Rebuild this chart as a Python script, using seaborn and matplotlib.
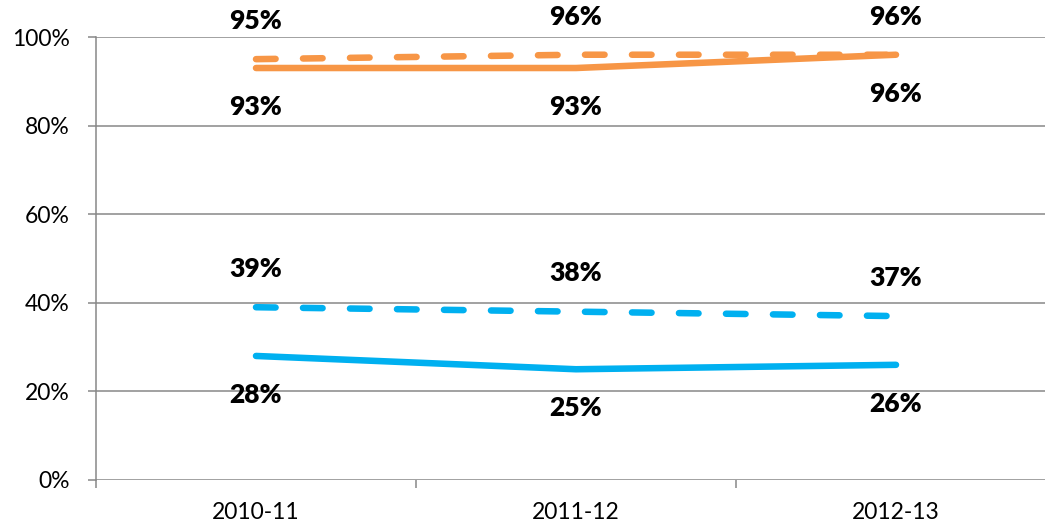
import matplotlib
matplotlib.use("Agg")
import matplotlib.pyplot as plt
import seaborn as sns
import pandas as pd

years = ["2010-11", "2011-12", "2012-13"]
orange_dashed = [95, 96, 96]
orange_solid = [93, 93, 96]
blue_dashed = [39, 38, 37]
blue_solid = [28, 25, 26]
y_ticks = [0, 20, 40, 60, 80, 100]

ORANGE = "#F79646"
BLUE = "#00B0F0"
GRID = "#878787"

sns.set_theme(style="white")
plt.rcParams['font.family'] = ['Lato', 'DejaVu Sans']

fig = plt.figure(figsize=(10.45, 5.29), dpi=100)
ax = fig.add_axes([96 / 1045, 49 / 529, 960 / 1045, 443 / 529])

series = [
    (orange_solid, ORANGE, "-", -28),
    (orange_dashed, ORANGE, (0, (3, 4.2)), 27.5),
    (blue_solid, BLUE, "-", -28),
    (blue_dashed, BLUE, (0, (3, 4.2)), 27.5),
]

for vals, color, ls, off in series:
    df = pd.DataFrame({"year": years, "value": vals})
    sns.lineplot(data=df, x="year", y="value", ax=ax, color=color,
                 linestyle=ls, linewidth=4.7, solid_capstyle="round",
                 dash_capstyle="round", zorder=3, clip_on=False)
    for i, v in enumerate(vals):
        ax.annotate(f"{v}%", xy=(i, v), xytext=(0, off), textcoords="offset points",
                    ha="center", va="center", fontsize=19, fontweight="heavy",
                    color="black", annotation_clip=False)

ax.set_xlim(-0.5, 2.5)
ax.set_ylim(0, 100)
ax.set_yticks(y_ticks)
ax.set_yticklabels([f"{t}%" for t in y_ticks])
ax.set_xticks(range(len(years)))
ax.set_xticklabels(years)
ax.set_xticks([-0.5, 0.5, 1.5, 2.5], minor=True)
ax.set_xlabel("")
ax.set_ylabel("")

for t in y_ticks:
    ax.axhline(t, color=GRID, linewidth=1.1, zorder=1)

for s in ["top", "right", "bottom"]:
    ax.spines[s].set_visible(False)
ax.spines["left"].set_color(GRID)
ax.spines["left"].set_linewidth(1.1)

ax.tick_params(axis="y", which="major", left=True, length=6, width=1.1, color=GRID,
               direction="out", pad=13, labelsize=16.5, labelcolor="black")
ax.tick_params(axis="x", which="major", bottom=False, length=0, pad=16,
               labelsize=16.5, labelcolor="black")
ax.tick_params(axis="x", which="minor", bottom=True, length=6, width=1.1,
               color=GRID, direction="out")

fig.savefig("out.png", dpi=100)
